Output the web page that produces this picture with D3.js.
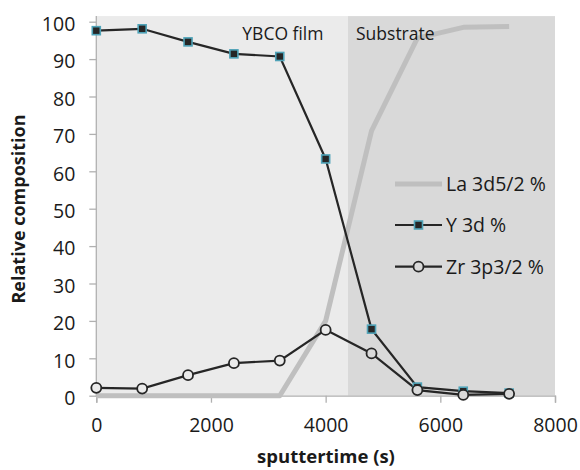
<!DOCTYPE html>
<html><head><meta charset="utf-8">
<script src="https://cdn.jsdelivr.net/npm/d3@7"></script>
<style>body{margin:0;background:#fff}svg{display:block}text{font-family:"Open Sans",sans-serif;fill:#1a1a1a}</style>
</head><body><svg id="c" width="580" height="470"></svg>
<script>
const times = [0, 800, 1600, 2400, 3200, 4000, 4800, 5600, 6400, 7200];
const la = [0, 0, 0, 0, 0, 20, 70.8, 95.6, 98.5, 98.7];
const y3d = [97.6, 98.1, 94.6, 91.4, 90.7, 63.3, 17.8, 2.3, 1.2, 0.7];
const zr = [2.1, 1.9, 5.5, 8.7, 9.4, 17.6, 11.3, 1.5, 0.2, 0.5];
const xTicks = [0, 2000, 4000, 6000, 8000];
const yTicks = [0, 10, 20, 30, 40, 50, 60, 70, 80, 90, 100];
const regions = [{name: "YBCO film", from: 0, to: 4390}, {name: "Substrate", from: 4390, to: 8000}];
const legendNames = ["La 3d5/2 %", "Y 3d %", "Zr 3p3/2 %"];

const svg = d3.select("#c");
const x = d3.scaleLinear().domain([0, 8000]).range([96.3, 555]);
const y = d3.scaleLinear().domain([0, 100]).range([395.7, 21.7]);
const regionFill = ["#ebebeb", "#d9d9d9"];
const plotTop = y(101.5);

// backgrounds
svg.selectAll("rect.bg").data(regions).join("rect")
  .attr("x", d => x(d.from)).attr("width", d => x(d.to) - x(d.from))
  .attr("y", plotTop).attr("height", y(0) - plotTop)
  .attr("fill", (d, i) => regionFill[i]);

// axes
const gy = svg.append("g").attr("transform", `translate(${x(0)},0)`)
  .call(d3.axisLeft(y).tickValues(yTicks).tickSize(7).tickPadding(14));
gy.select(".domain").attr("d", `M0,${y(0)+1}V${plotTop}`);
const gx = svg.append("g").attr("transform", `translate(0,${y(0)})`)
  .call(d3.axisBottom(x).tickValues(xTicks).tickSize(7).tickPadding(15).tickFormat(d3.format("d")));
[gx, gy].forEach(g => {
  g.select(".domain").attr("stroke", "#b0b0b0").attr("stroke-width", 1.3);
  g.selectAll(".tick line").attr("stroke", "#b0b0b0").attr("stroke-width", 1.3);
  g.selectAll(".tick text").attr("font-size", 19.5).attr("font-family", "Open Sans").attr("fill", "#1a1a1a");
});
gy.selectAll(".tick text").attr("dy", "0.45em");

const line = d3.line().x((d, i) => x(times[i])).y(d => y(d));
// La
svg.append("path").attr("d", line(la)).attr("fill", "none").attr("stroke", "#bfbfbf").attr("stroke-width", 5).attr("stroke-linejoin", "round");
// Y 3d
svg.append("path").attr("d", line(y3d)).attr("fill", "none").attr("stroke", "#262626").attr("stroke-width", 2.2);
// Zr
svg.append("path").attr("d", line(zr)).attr("fill", "none").attr("stroke", "#262626").attr("stroke-width", 2.2);
svg.selectAll("rect.ym").data(y3d).join("rect")
  .attr("x", (d, i) => x(times[i]) - 4).attr("y", d => y(d) - 4)
  .attr("width", 8).attr("height", 8)
  .attr("fill", "#262626").attr("stroke", "#4fa3b8").attr("stroke-width", 1.6);
svg.selectAll("circle.zm").data(zr).join("circle")
  .attr("cx", (d, i) => x(times[i])).attr("cy", d => y(d)).attr("r", 5)
  .attr("fill", (d, i) => times[i] < regions[1].from ? regionFill[0] : regionFill[1])
  .attr("stroke", "#262626").attr("stroke-width", 1.8);

// region labels
svg.selectAll("text.reg").data(regions).join("text")
  .attr("x", d => x(d.from) + (d.from === 0 ? 146 : 8)).attr("y", 40)
  .attr("font-size", 17.5).text(d => d.name);

// legend
const ly = [184, 225, 266.7];
const lg = svg.append("g");
legendNames.forEach((n, i) => {
  const g = lg.append("g").attr("transform", `translate(0,${ly[i]})`);
  if (i === 0) g.append("line").attr("x1", 395).attr("x2", 442).attr("stroke", "#bfbfbf").attr("stroke-width", 5);
  else g.append("line").attr("x1", 395).attr("x2", 442).attr("stroke", "#262626").attr("stroke-width", 2.2);
  if (i === 1) g.append("rect").attr("x", 414.5).attr("y", -4).attr("width", 8).attr("height", 8).attr("fill", "#262626").attr("stroke", "#4fa3b8").attr("stroke-width", 1.6);
  if (i === 2) g.append("circle").attr("cx", 418.5).attr("r", 5).attr("fill", regionFill[1]).attr("stroke", "#262626").attr("stroke-width", 1.8);
  g.append("text").attr("x", 446).attr("dy", "0.37em").attr("font-size", 19.5).text(n);
});

// titles
svg.append("text").attr("transform", `translate(25,209) rotate(-90)`).attr("text-anchor", "middle")
  .attr("font-size", 18).attr("font-weight", "bold").text("Relative composition");
svg.append("text").attr("x", 326).attr("y", 463).attr("text-anchor", "middle")
  .attr("font-size", 18.5).attr("font-weight", "bold").text("sputtertime (s)");
</script></body></html>
